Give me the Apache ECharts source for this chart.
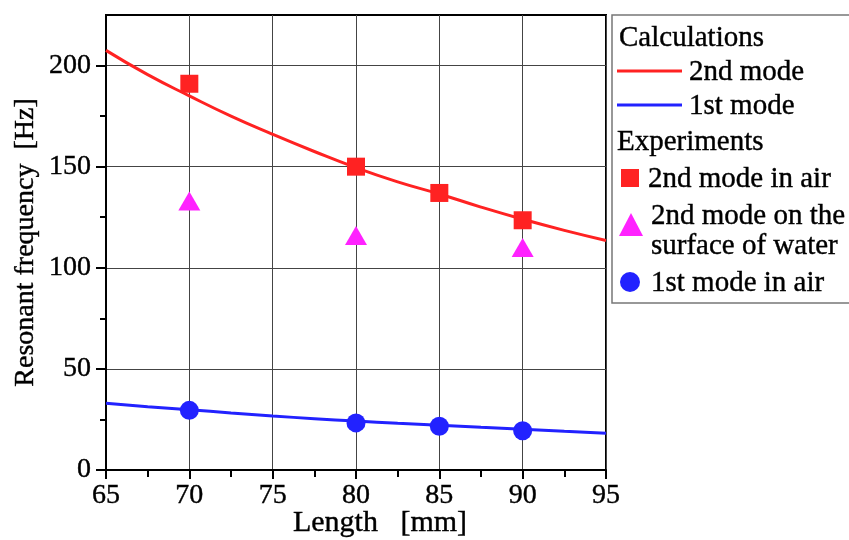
<!DOCTYPE html>
<html>
<head>
<meta charset="utf-8">
<script src="https://cdn.jsdelivr.net/npm/echarts@6/dist/echarts.min.js"></script>
<style>
html,body{margin:0;padding:0;background:#fff;}
#chart{width:849px;height:540px;}
</style>
</head>
<body>
<div id="chart"></div>
<script>
// Calculation curves (Length in mm, frequency in Hz)
const calcLength = [65, 67.5, 70, 72.5, 75, 77.5, 80, 82.5, 85, 87.5, 90, 92.5, 95];
const calc2ndMode = [207.5, 195.5, 185, 175, 166, 157.5, 149.5, 142.5, 136.5, 130, 124, 118.5, 113.5];
const calc1stMode = [33, 31.3, 29.8, 28.2, 26.7, 25.4, 24.2, 23.1, 22.1, 21.1, 20.2, 19.2, 18.2];

// Experiments
const exp2ndAirLength = [70, 80, 85, 90];
const exp2ndAir = [191, 150, 137, 123.5];
const exp2ndWaterLength = [70, 80, 90];
const exp2ndWater = [133, 116, 110];
const exp1stAirLength = [70, 80, 85, 90];
const exp1stAir = [29.5, 23.3, 21.6, 19.4];

// Axis ticks
const yLabelValues = [0, 50, 100, 150, 200];
const yMinorValues = [25, 75, 125, 175];

const pair = (xs, ys) => xs.map((x, i) => [x, ys[i]]);

const FONT = 'Liberation Serif';
const RED = '#ff2222';
const BLUE = '#2222ff';
const MAGENTA = '#ff22ff';

const chart = echarts.init(document.getElementById('chart'), null, {renderer: 'canvas'});

const legendText = (x, y, s) => ({
  type: 'text', x: x, y: y, z: 11,
  style: {text: s, font: '29px "Liberation Serif"', fill: '#000', stroke: '#000', lineWidth: 0.4,
          align: 'left', verticalAlign: 'middle'}
});

chart.setOption({
  animation: false,
  backgroundColor: '#fff',
  grid: {
    left: 106, right: 243, top: 15, bottom: 70,
    outerBoundsMode: 'none', containLabel: false,
    show: true, borderColor: '#000', borderWidth: 2, backgroundColor: 'transparent'
  },
  xAxis: {
    type: 'value', min: 65, max: 95, interval: 5,
    name: 'Length   [mm]', nameLocation: 'middle', nameGap: 38, nameMoveOverlap: false,
    nameTextStyle: {fontFamily: FONT, fontSize: 30, color: '#000', textBorderColor: '#000', textBorderWidth: 0.4,
                    padding: [0, 0, 0, 48]},
    axisLine: {show: true, lineStyle: {color: '#000', width: 2}},
    axisTick: {show: true, length: 9, lineStyle: {color: '#000', width: 2}},
    minorTick: {show: true, splitNumber: 2, length: 7, lineStyle: {color: '#000', width: 2}},
    axisLabel: {fontFamily: FONT, fontSize: 28, color: '#000', margin: 12, textBorderColor: '#000', textBorderWidth: 0.4},
    splitLine: {show: true, lineStyle: {color: '#444', width: 1}}
  },
  yAxis: [{
    type: 'value', min: 0, max: 225, interval: 50,
    name: 'Resonant frequency  [Hz]', nameLocation: 'middle', nameGap: 66, nameMoveOverlap: false,
    nameTextStyle: {fontFamily: FONT, fontSize: 28, color: '#000', textBorderColor: '#000', textBorderWidth: 0.4},
    axisLine: {show: true, lineStyle: {color: '#000', width: 2}},
    axisTick: {show: true, length: 10, customValues: yLabelValues, lineStyle: {color: '#000', width: 2}},
    axisLabel: {fontFamily: FONT, fontSize: 28, color: '#000', margin: 15, customValues: yLabelValues,
                textBorderColor: '#000', textBorderWidth: 0.4},
    splitLine: {show: true, lineStyle: {color: '#444', width: 1}}
  }, {
    type: 'value', min: 0, max: 225, position: 'left',
    axisLine: {show: false},
    axisTick: {show: true, length: 6, customValues: yMinorValues, lineStyle: {color: '#000', width: 2}},
    axisLabel: {show: false},
    splitLine: {show: false}
  }],
  series: [
    {
      name: '2nd mode', type: 'line', smooth: true, showSymbol: false, z: 2,
      data: pair(calcLength, calc2ndMode),
      lineStyle: {color: RED, width: 3}, itemStyle: {color: RED}
    },
    {
      name: '1st mode', type: 'line', smooth: true, showSymbol: false, z: 2,
      data: pair(calcLength, calc1stMode),
      lineStyle: {color: BLUE, width: 3}, itemStyle: {color: BLUE}
    },
    {
      name: '2nd mode in air', type: 'scatter', symbol: 'rect', symbolSize: 18, z: 3,
      data: pair(exp2ndAirLength, exp2ndAir), itemStyle: {color: RED, opacity: 1}
    },
    {
      name: '2nd mode on the surface of water', type: 'scatter', symbol: 'triangle', symbolSize: [22, 19], z: 3,
      data: pair(exp2ndWaterLength, exp2ndWater), itemStyle: {color: MAGENTA, opacity: 1}
    },
    {
      name: '1st mode in air', type: 'scatter', symbol: 'circle', symbolSize: 19, z: 3,
      data: pair(exp1stAirLength, exp1stAir), itemStyle: {color: BLUE, opacity: 1}
    }
  ],
  graphic: [
    {type: 'rect', shape: {x: 612, y: 15, width: 260, height: 288},
     style: {fill: '#fff', stroke: '#777', lineWidth: 1.5}, z: 10},
    legendText(619, 38, 'Calculations'),
    {type: 'line', shape: {x1: 617, y1: 71, x2: 682, y2: 71}, style: {stroke: RED, lineWidth: 3}, z: 11},
    legendText(689, 72, '2nd mode'),
    {type: 'line', shape: {x1: 617, y1: 105, x2: 682, y2: 105}, style: {stroke: BLUE, lineWidth: 3}, z: 11},
    legendText(689, 106, '1st mode'),
    legendText(617, 142, 'Experiments'),
    {type: 'rect', shape: {x: 621, y: 169, width: 18, height: 18}, style: {fill: RED}, z: 11},
    legendText(648, 179, '2nd mode in air'),
    {type: 'polygon', shape: {points: [[631, 213], [643, 236], [619, 236]]}, style: {fill: MAGENTA}, z: 11},
    legendText(651, 216, '2nd mode on the'),
    legendText(651, 246, 'surface of water'),
    {type: 'circle', shape: {cx: 630, cy: 282, r: 10}, style: {fill: BLUE}, z: 11},
    legendText(651, 283, '1st mode in air')
  ]
});
</script>
</body>
</html>
